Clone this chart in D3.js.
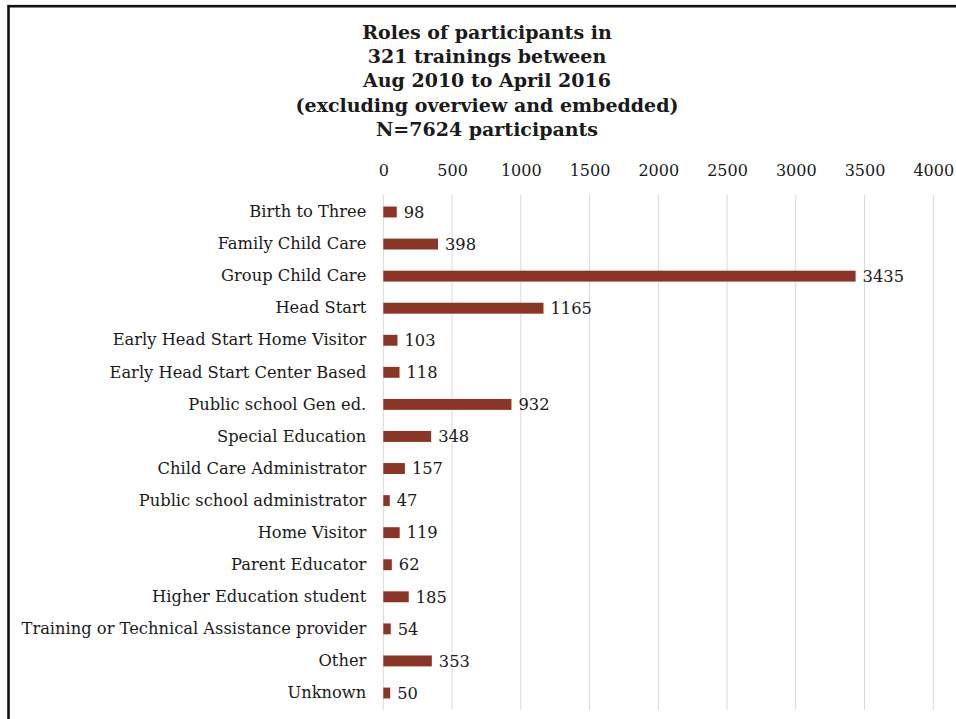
<!DOCTYPE html>
<html>
<head>
<meta charset="utf-8">
<script src="https://cdn.jsdelivr.net/npm/d3@7"></script>
<style>
  body { margin: 0; background: #fff; }
  svg text { font-family: "Palatino Linotype", "Book Antiqua", Palatino, "DejaVu Serif", serif; fill: #1a1a1a; }
</style>
</head>
<body>
<div class="content"></div>
<script>
// Main data
const roles = [
  "Birth to Three",
  "Family Child Care",
  "Group Child Care",
  "Head Start",
  "Early Head Start Home Visitor",
  "Early Head Start Center Based",
  "Public school Gen ed.",
  "Special Education",
  "Child Care Administrator",
  "Public school administrator",
  "Home Visitor",
  "Parent Educator",
  "Higher Education student",
  "Training or Technical Assistance provider",
  "Other",
  "Unknown",
];
const counts = [98, 398, 3435, 1165, 103, 118, 932, 348, 157, 47, 119, 62, 185, 54, 353, 50];
const ticks = [0, 500, 1000, 1500, 2000, 2500, 3000, 3500, 4000];
const titleLines = [
  "Roles of participants in",
  "321 trainings between",
  "Aug 2010 to April 2016",
  "(excluding overview and embedded)",
  "N=7624 participants",
];

const data = roles.map((r, i) => ({ role: r, value: counts[i] }));

// Dimensions
const width = 956;
const height = 719;
const margin = { top: 195, left: 383.3, right: 22.7, bottom: 9 };

const svg = d3
  .select(".content")
  .append("svg")
  .attr("width", width)
  .attr("height", height);

// Frame
svg
  .append("rect")
  .attr("x", 8.5)
  .attr("y", 6.2)
  .attr("width", width + 20)
  .attr("height", height + 20)
  .attr("fill", "none")
  .attr("stroke", "#111")
  .attr("stroke-width", 2.6);

// Title
svg
  .append("g")
  .selectAll("text")
  .data(titleLines)
  .join("text")
  .attr("x", 487)
  .attr("y", (d, i) => 39 + i * 24.2)
  .attr("text-anchor", "middle")
  .attr("font-size", "19px")
  .attr("font-weight", "bold")
  .text((d) => d);

// Scales
const xScale = d3
  .scaleLinear()
  .domain([0, 4000])
  .range([margin.left, width - margin.right]);

const yScale = d3
  .scaleBand()
  .domain(roles)
  .range([margin.top, height - margin.bottom])
  .paddingInner(0.66)
  .paddingOuter(0.36);

// Gridlines
svg
  .append("g")
  .selectAll("line")
  .data(ticks)
  .join("line")
  .attr("x1", (d) => xScale(d))
  .attr("x2", (d) => xScale(d))
  .attr("y1", margin.top)
  .attr("y2", height - margin.bottom)
  .attr("stroke", "#d9d9d9")
  .attr("stroke-width", 1);

// X axis (top, labels only)
const xAxis = d3
  .axisTop(xScale)
  .tickValues(ticks)
  .tickFormat((d) => String(d))
  .tickSize(0)
  .tickPadding(0);

const xg = svg
  .append("g")
  .attr("transform", `translate(0, 176)`)
  .call(xAxis);
xg.select(".domain").remove();
xg.selectAll("text")
  .attr("font-size", "16px")
  .attr("dy", 0)
  .attr("fill", "#1a1a1a")
  .style("font-family", null);

// Y axis (labels only)
const yAxis = d3.axisLeft(yScale).tickSize(0).tickPadding(17);
const yg = svg
  .append("g")
  .attr("transform", `translate(${margin.left}, 0)`)
  .call(yAxis);
yg.select(".domain").remove();
yg.selectAll("text")
  .attr("font-size", "16.3px")
  .attr("fill", "#1a1a1a")
  .style("font-family", null);

// Bars
svg
  .append("g")
  .selectAll("rect")
  .data(data)
  .join("rect")
  .attr("x", xScale(0))
  .attr("y", (d) => yScale(d.role))
  .attr("width", (d) => xScale(d.value) - xScale(0))
  .attr("height", yScale.bandwidth())
  .attr("fill", "#8a3526");

// Value labels
svg
  .append("g")
  .selectAll("text")
  .data(data)
  .join("text")
  .attr("x", (d) => xScale(d.value) + 7)
  .attr("y", (d) => yScale(d.role) + yScale.bandwidth() / 2)
  .attr("dy", "0.35em")
  .attr("font-size", "16.3px")
  .text((d) => d.value);
</script>
</body>
</html>
